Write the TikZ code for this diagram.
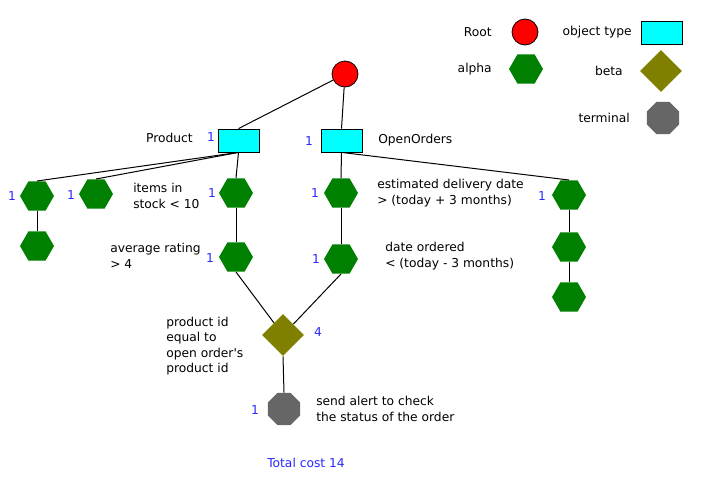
\documentclass[tikz,border=0pt]{standalone}
\usepackage{fontspec}
\setmainfont{DejaVu Sans}
\usetikzlibrary{shapes.geometric}
\definecolor{alphagreen}{RGB}{0,128,0}
\definecolor{betaolive}{RGB}{128,128,0}
\definecolor{termgray}{RGB}{102,102,102}
\definecolor{typecyan}{RGB}{0,255,255}
\definecolor{costblue}{RGB}{40,40,255}
\begin{document}
\begin{tikzpicture}[
  x=0.75pt, y=-0.75pt,
  every node/.style={font=\fontsize{9.2}{11.6}\selectfont},
  rootnode/.style={circle, draw=black, fill=red, minimum size=19.5pt, inner sep=0pt, line width=0.6pt},
  typenode/.style={rectangle, draw=black, fill=typecyan, minimum width=30.75pt, minimum height=17.25pt, inner sep=0pt, line width=0.6pt},
  alphanode/.style={regular polygon, regular polygon sides=6, fill=alphagreen, minimum size=25.5pt, inner sep=0pt},
  betanode/.style={diamond, fill=betaolive, minimum width=31.5pt, minimum height=31.5pt, inner sep=0pt},
  termnode/.style={regular polygon, regular polygon sides=8, fill=termgray, minimum size=26pt, inner sep=0pt},
  txt/.style={align=left, inner sep=0pt, anchor=west},
  tag/.style={inner sep=0pt, anchor=east},
  cost/.style={inner sep=0pt, text=costblue},
  link/.style={line width=0.75pt}
]
\useasboundingbox (0,0) rectangle (713,482);
% legend
\node[tag] (lroot) at (492,32) {Root};
\node[rootnode] (lrootsym) at (525,32) {};
\node[tag] (ltype) at (632,32) {object type};
\node[typenode] (ltypesym) at (661.5,32.5) {};
\node[tag] (lalpha) at (492,69) {alpha};
\node[alphanode] (lalphasym) at (526,69) {};
\node[tag] (lbeta) at (623,71) {beta};
\node[betanode] (lbetasym) at (661,71) {};
\node[tag] (lterm) at (630,118) {terminal};
\node[termnode] (ltermsym) at (663,118) {};
% network
\node[rootnode] (root) at (345,74) {};
\node[typenode] (product) at (238.5,140.5) {};
\node[typenode] (orders) at (341.5,140.5) {};
\node[tag] (productname) at (193,138) {Product};
\node[txt] (ordersname) at (378,140) {OpenOrders};
\node[alphanode] (pa1) at (37,196) {};
\node[alphanode] (pa2) at (37,246) {};
\node[alphanode] (pb) at (96,194) {};
\node[alphanode] (stock) at (236,193) {};
\node[alphanode] (rating) at (236,257) {};
\node[alphanode] (delivery) at (341,193) {};
\node[alphanode] (ordered) at (341,259) {};
\node[alphanode] (oa1) at (569,195) {};
\node[alphanode] (oa2) at (569,247) {};
\node[alphanode] (oa3) at (569,297) {};
\node[betanode] (join) at (283,335) {};
\node[termnode] (alert) at (284,409) {};
% texts
\node[txt] (stocktxt) at (133,196) {items in\\stock < 10};
\node[txt] (ratingtxt) at (110,256) {average rating\\> 4};
\node[txt] (deliverytxt) at (377,193) {estimated delivery date\\> (today + 3 months)};
\node[txt] (orderedtxt) at (385,256) {date ordered\\< (today - 3 months)};
\node[txt] (jointxt) at (166,346) {product id\\equal to\\open order\textquotesingle s\\product id};
\node[txt] (alerttxt) at (316,409) {send alert to check\\the status of the order};
% costs
\node[cost] (c1) at (211,137) {1};
\node[cost] (c2) at (309,141) {1};
\node[cost] (c3) at (12,196) {1};
\node[cost] (c4) at (71,195) {1};
\node[cost] (c5) at (212,193) {1};
\node[cost] (c6) at (210,258) {1};
\node[cost] (c7) at (315,193) {1};
\node[cost] (c8) at (316,259) {1};
\node[cost] (c9) at (542,196) {1};
\node[cost] (c10) at (318,332) {4};
\node[cost] (c11) at (255,410) {1};
\node[cost] (total) at (306,463) {Total cost 14};
% links
\draw[link] (root) -- (product.north);
\draw[link] (root) -- (orders.north);
\draw[link] (product.south) -- (pa1.north);
\draw[link] (product.south) -- (pb.north);
\draw[link] (product.south) -- (stock.north);
\draw[link] (pa1) -- (pa2);
\draw[link] (stock) -- (rating);
\draw[link] (orders.south) -- (delivery.north);
\draw[link] (orders.south) -- (oa1.north);
\draw[link] (delivery) -- (ordered);
\draw[link] (oa1) -- (oa2);
\draw[link] (oa2) -- (oa3);
\draw[link] (rating.south) -- (join);
\draw[link] (ordered.south) -- (join);
\draw[link] (join.south) -- (alert.north);
\end{tikzpicture}
\end{document}
